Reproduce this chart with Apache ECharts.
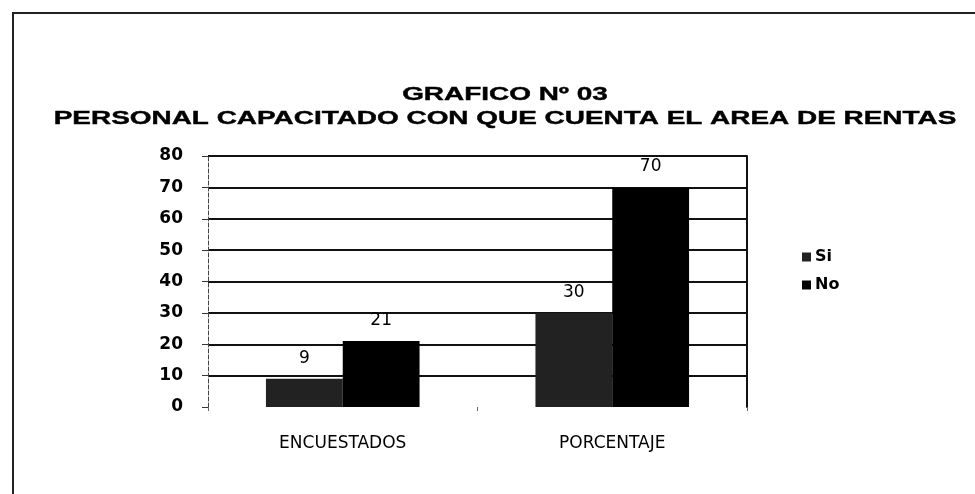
<!DOCTYPE html>
<html>
<head>
<meta charset="utf-8">
<script src="https://cdn.jsdelivr.net/npm/echarts@6/dist/echarts.min.js"></script>
<style>
  body { margin: 0; background: #fff; }
  #frame {
    position: absolute; left: 12px; top: 12px; width: 975px; height: 494px;
    border-left: 2px solid #222; border-top: 2px solid #222;
  }
  #mychart { position: absolute; left: 0; top: 0; width: 975px; height: 494px; }
</style>
</head>
<body>
<div id="frame"></div>
<div id="mychart"></div>
<script>
// datos del grafico
const categorias = ['ENCUESTADOS', 'PORCENTAJE'];
const si = [9, 30];
const no = [21, 70];
const titulo1 = 'GRAFICO Nº 03';
const titulo2 = 'PERSONAL CAPACITADO CON QUE CUENTA EL AREA DE RENTAS';

const myEcharts = echarts.init(document.getElementById('mychart'));

// el titulo del escaneo esta estirado a lo ancho
const tituloFont = 'bold 19px "Liberation Sans"';

const option = {
  backgroundColor: 'transparent',
  animation: false,
  graphic: [
    {
      type: 'text', x: 505, y: 95, scaleX: 1.47,
      style: { text: titulo1, font: tituloFont, fill: '#000', stroke: '#000', lineWidth: 0.4, textAlign: 'center', textVerticalAlign: 'middle' }
    },
    {
      type: 'text', x: 505, y: 119, scaleX: 1.47,
      style: { text: titulo2, font: tituloFont, fill: '#000', stroke: '#000', lineWidth: 0.4, textAlign: 'center', textVerticalAlign: 'middle' }
    }
  ],
  legend: {
    orient: 'vertical',
    left: 797,
    top: 244,
    icon: 'rect',
    itemWidth: 9,
    itemHeight: 9,
    itemGap: 12,
    textStyle: { fontFamily: 'DejaVu Sans', fontWeight: 'bold', fontSize: 16, color: '#000', padding: [0, 0, 0, -1] },
    data: ['Si', 'No']
  },
  grid: { left: 208, right: 228, top: 156, bottom: 87 },
  xAxis: {
    type: 'category',
    data: categorias,
    axisLine: { show: false },
    axisTick: { show: true, length: 4, lineStyle: { color: '#666' } },
    axisLabel: { fontFamily: 'DejaVu Sans', fontSize: 17, color: '#000', margin: 28 }
  },
  yAxis: [
    {
      type: 'value',
      min: 0,
      max: 80,
      interval: 10,
      axisLine: { show: true, lineStyle: { color: '#444', width: 1, type: 'dashed' } },
      axisTick: { show: true, length: 6, lineStyle: { color: '#333' } },
      axisLabel: { fontFamily: 'DejaVu Sans', fontWeight: 'bold', fontSize: 17, color: '#000', margin: 25 },
      splitLine: {
        show: true,
        lineStyle: {
          color: ['rgba(0,0,0,0)', '#111', '#111', '#111', '#111', '#111', '#111', '#111', '#111'],
          width: 2
        }
      }
    },
    {
      type: 'value',
      position: 'right',
      min: 0,
      max: 80,
      interval: 10,
      axisLine: { show: true, lineStyle: { color: '#111', width: 2 } },
      axisTick: { show: false },
      axisLabel: { show: false },
      splitLine: { show: false }
    }
  ],
  series: [
    {
      name: 'Si',
      type: 'bar',
      data: si,
      barGap: '0%',
      barCategoryGap: '43%',
      itemStyle: { color: '#222' },
      label: { show: true, position: 'top', distance: 12, fontFamily: 'DejaVu Sans', fontSize: 17, color: '#000' }
    },
    {
      name: 'No',
      type: 'bar',
      data: no,
      itemStyle: { color: '#000' },
      label: { show: true, position: 'top', distance: 12, fontFamily: 'DejaVu Sans', fontSize: 17, color: '#000' }
    }
  ]
};

myEcharts.setOption(option);
</script>
</body>
</html>
